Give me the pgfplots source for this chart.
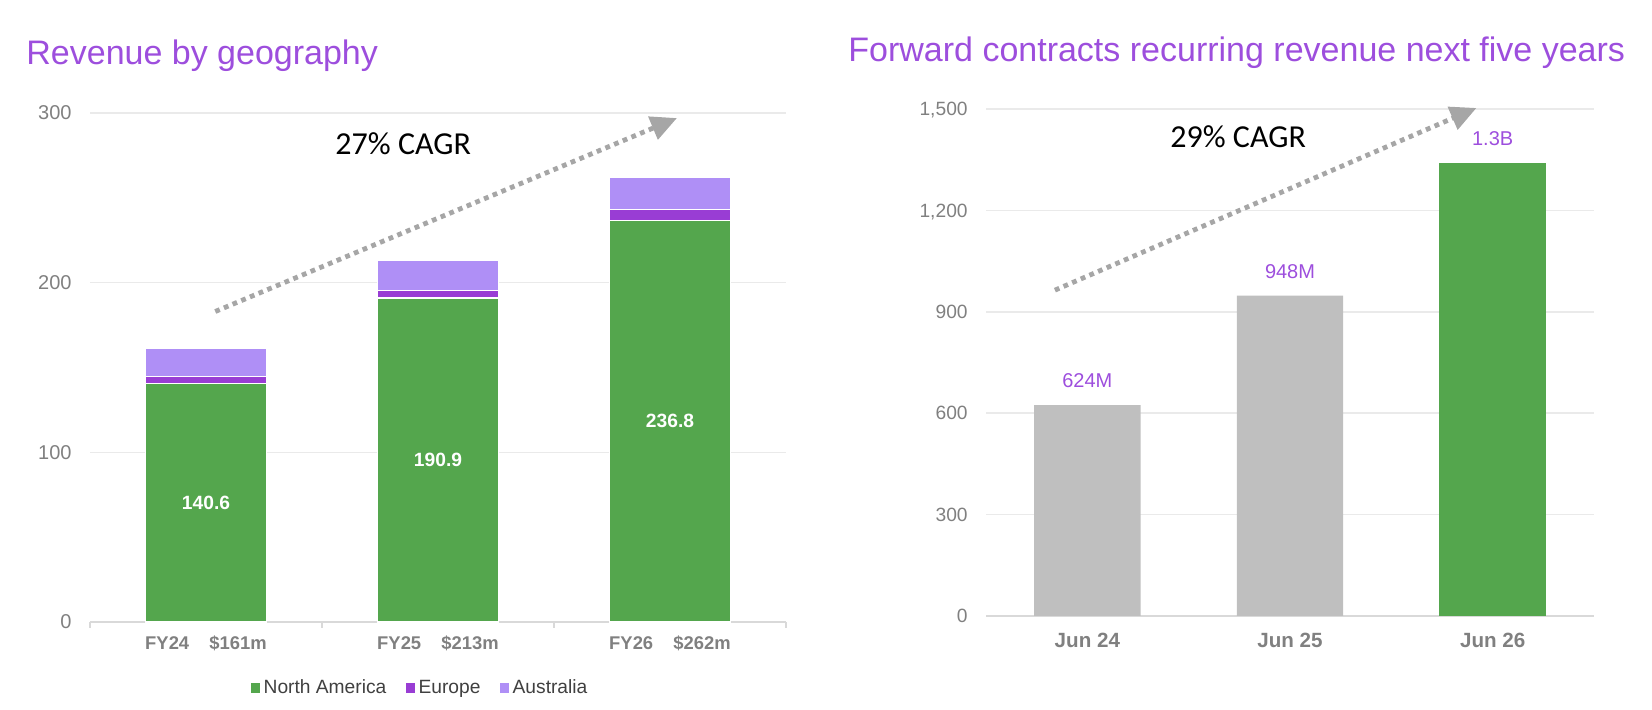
\documentclass[border=0pt]{standalone}
\usepackage{fontspec}
\setmainfont{Liberation Sans}
\newfontfamily\calibri{Carlito}
\usepackage{pgfplots}
\usepackage{pgfplotstable}
\pgfplotsset{compat=1.18}
\usetikzlibrary{arrows.meta}
\definecolor{titlepurple}{RGB}{157,78,221}
\definecolor{NAgreen}{RGB}{84,166,77}
\definecolor{EUpurple}{RGB}{153,61,212}
\definecolor{AUlav}{RGB}{175,143,246}
\definecolor{barGray}{RGB}{191,191,191}
\definecolor{tickgray}{RGB}{128,128,128}
\definecolor{legendtext}{RGB}{64,64,64}
\definecolor{arrowgray}{RGB}{166,166,166}
\definecolor{gridgray}{RGB}{234,234,234}
\definecolor{axisgray}{RGB}{217,217,217}

\pgfplotstableread{
x na eu au
0 140.6 4.0 16.4
1 190.9 4.3 17.8
2 236.8 6.5 18.7
}\geo

\pgfplotstableread{
x y lab
0 624 624M
1 948 948M
}\fwdgray

\pgfplotstableread{
x y lab
2 1340 1.3B
}\fwdgreen

\begin{document}
\begin{tikzpicture}
\useasboundingbox (0,0) rectangle (826pt,355pt);
\node[anchor=base west, inner sep=0pt, text=titlepurple, font=\fontsize{17}{20}\selectfont] at (13pt,322.5pt) {Revenue by geography};
\node[anchor=base west, inner sep=0pt, text=titlepurple, font=\fontsize{17}{20}\selectfont] at (424pt,324pt) {Forward contracts recurring revenue next five years};

\begin{axis}[
  at={(45pt,44pt)}, anchor=south west,
  width=348pt, height=254.5pt, scale only axis,
  xmin=-0.5, xmax=2.5, ymin=0, ymax=300,
  ybar stacked, bar width=0.52,
  clip=false,
  axis lines*=left,
  y axis line style={draw=none},
  x axis line style={draw=axisgray, line width=0.75pt},
  tick align=outside,
  major tick length=0pt,
  minor tick length=3pt,
  minor tick style={draw=axisgray, line width=0.75pt},
  xtick={0,1,2},
  minor xtick={-0.5,0.5,1.5,2.5},
  xticklabels={{FY24\hspace{1.1em}\$161m},{FY25\hspace{1.1em}\$213m},{FY26\hspace{1.1em}\$262m}},
  ytick={0,100,200,300},
  ymajorgrids,
  grid style={draw=gridgray, line width=0.8pt},
  /pgf/number format/assume math mode=true,
  /pgf/number format/1000 sep={,},
  scaled y ticks=false,
  yticklabel style={font=\fontsize{10}{12}\selectfont, text=tickgray, anchor=east, inner sep=0pt, xshift=-9pt, text depth=0pt},
  xticklabel style={font=\bfseries\fontsize{9.2}{11}\selectfont, text=tickgray, anchor=base, inner sep=0pt, yshift=-14pt},
  legend columns=3,
  legend image code/.code={\fill[#1,draw=none] (0pt,-2.5pt) rectangle (4.5pt,2.5pt);},
  legend style={at={(0.4756,-0.1297)}, anchor=center, draw=none, fill=none,
    font=\fontsize{9.6}{11}\selectfont, text=legendtext,
    nodes={inner sep=1.8pt},
    /tikz/every even column/.append style={column sep=8pt}},
]
\addplot[fill=NAgreen, draw=white, line width=0.6pt,
  nodes near coords, point meta=rawy,
  every node near coord/.append style={text=white, font=\bfseries\fontsize{9.6}{11}\selectfont, anchor=center, inner sep=0pt},
  /pgf/number format/fixed, /pgf/number format/precision=1, /pgf/number format/fixed zerofill,
] table[x=x, y=na] {\geo};
\addlegendentry{North America}
\addplot[fill=EUpurple, draw=white, line width=0.6pt] table[x=x, y=eu] {\geo};
\addlegendentry{Europe}
\addplot[fill=AUlav, draw=white, line width=0.6pt] table[x=x, y=au] {\geo};
\addlegendentry{Australia}

\node[anchor=base, inner sep=0pt, font=\calibri\fontsize{16}{19}\selectfont] at (axis cs:0.85,275.8) {27\% CAGR};
\draw[arrowgray, line width=2.4pt, dash pattern=on 2.4pt off 2.3pt, -{Triangle[length=13pt,width=12pt]}] (axis cs:0.04,183) -- (axis cs:2.03,297);
\end{axis}

\begin{axis}[
  at={(493pt,47pt)}, anchor=south west,
  width=304pt, height=253.5pt, scale only axis,
  xmin=-0.5, xmax=2.5, ymin=0, ymax=1500,
  ybar, bar width=0.525,
  clip=false,
  axis lines*=left,
  y axis line style={draw=none},
  x axis line style={draw=axisgray, line width=0.75pt},
  major tick length=0pt,
  xtick={0,1,2},
  xticklabels={Jun 24,Jun 25,Jun 26},
  ytick={0,300,600,900,1200,1500},
  ymajorgrids,
  grid style={draw=gridgray, line width=0.8pt},
  /pgf/number format/assume math mode=true,
  /pgf/number format/1000 sep={,},
  scaled y ticks=false,
  yticklabel style={font=\fontsize{9.6}{12}\selectfont, text=tickgray, anchor=east, inner sep=0pt, xshift=-9pt, text depth=0pt},
  xticklabel style={font=\bfseries\fontsize{10.3}{12}\selectfont, text=tickgray, anchor=base, inner sep=0pt, yshift=-16pt},
  nodes near coords,
  point meta=explicit symbolic,
  every node near coord/.append style={font=\fontsize{10}{12}\selectfont, text=titlepurple, inner sep=0pt, anchor=south, yshift=8.3pt},
]
\addplot[fill=barGray, draw=none, bar shift=0pt] table[x=x, y=y, meta=lab] {\fwdgray};
\addplot[fill=NAgreen, draw=none, bar shift=0pt] table[x=x, y=y, meta=lab] {\fwdgreen};

\node[anchor=base, inner sep=0pt, font=\calibri\fontsize{16}{19}\selectfont] at (axis cs:0.744,1385) {29\% CAGR};
\draw[arrowgray, line width=2.4pt, dash pattern=on 2.4pt off 2.3pt, -{Triangle[length=13pt,width=12pt]}] (axis cs:-0.16,964) -- (axis cs:1.92,1503);
\end{axis}
\end{tikzpicture}
\end{document}
